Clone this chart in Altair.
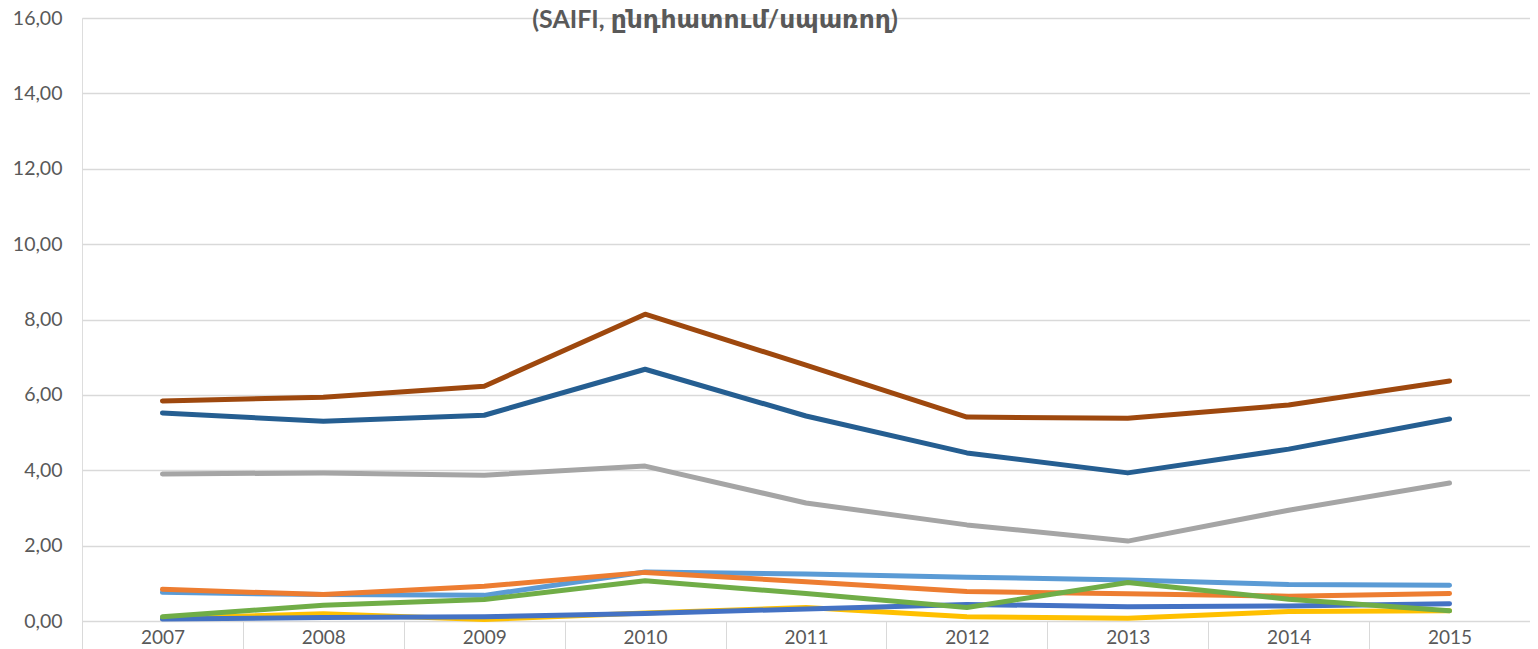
import altair as alt
import pandas as pd

years = ["2007", "2008", "2009", "2010", "2011", "2012", "2013", "2014", "2015"]

# series in drawing order (later drawn on top)
s_yellow = [0.07, 0.19, 0.04, 0.21, 0.36, 0.11, 0.07, 0.25, 0.27]
s_blue = [0.05, 0.09, 0.11, 0.20, 0.32, 0.44, 0.38, 0.40, 0.46]
s_lightblue = [0.76, 0.70, 0.68, 1.30, 1.25, 1.16, 1.09, 0.97, 0.95]
s_orange = [0.84, 0.70, 0.92, 1.29, 1.04, 0.78, 0.72, 0.66, 0.73]
s_gray = [3.90, 3.93, 3.87, 4.11, 3.13, 2.55, 2.12, 2.94, 3.66]
s_green = [0.11, 0.42, 0.57, 1.07, 0.73, 0.36, 1.02, 0.58, 0.27]
s_darkblue = [5.52, 5.30, 5.46, 6.68, 5.44, 4.46, 3.93, 4.56, 5.36]
s_brown = [5.84, 5.94, 6.23, 8.14, 6.79, 5.41, 5.38, 5.73, 6.37]

title_text = ["(SAIFI, ընդհատում/սպառող)"]

series = [
    ("s4", s_yellow, "#FFC000"),
    ("s1", s_blue, "#4472C4"),
    ("s5", s_lightblue, "#5B9BD5"),
    ("s2", s_orange, "#ED7D31"),
    ("s3", s_gray, "#A5A5A5"),
    ("s6", s_green, "#70AD47"),
    ("s7", s_darkblue, "#255E91"),
    ("s8", s_brown, "#9E480E"),
]

FONT = "Lato, DejaVu Sans, sans-serif"

x_enc = alt.X(
    "year:O",
    scale=alt.Scale(type="band", paddingInner=0, paddingOuter=0),
    axis=alt.Axis(
        title=None,
        labelAngle=0,
        labelFont=FONT,
        labelFontSize=19,
        labelColor="#595959",
        labelPadding=-23,
        labelBaseline="top",
        domainColor="#D9D9D9",
        domainWidth=1,
        tickColor="#D9D9D9",
        tickSize=30,
        tickBand="extent",
        grid=False,
    ),
)
y_enc = alt.Y(
    "value:Q",
    scale=alt.Scale(domain=[0, 16], nice=False),
    axis=alt.Axis(
        title=None,
        values=[0, 2, 4, 6, 8, 10, 12, 14, 16],
        labelExpr="replace(format(datum.value, '.2f'), '.', ',')",
        labelFont=FONT,
        labelFontSize=19.5,
        labelColor="#595959",
        labelPadding=20,
        domain=False,
        ticks=False,
        grid=True,
        gridColor="#D9D9D9",
        gridWidth=1.3,
    ),
)

layers = []
for name, vals, col in series:
    df = pd.DataFrame({"year": years, "value": vals, "series": name})
    layers.append(
        alt.Chart(df)
        .mark_line(color=col, strokeWidth=5, strokeCap="round", strokeJoin="round")
        .encode(x=x_enc, y=y_enc)
    )

title_layer = (
    alt.Chart(pd.DataFrame({"t": title_text}))
    .mark_text(
        font=FONT,
        fontSize=25,
        fontWeight="bold",
        color="#595959",
        align="center",
        baseline="alphabetic",
    )
    .encode(text="t:N", x=alt.value(633), y=alt.value(10))
)

chart = (
    alt.layer(*layers, title_layer)
    .properties(
        width=1448,
        height=603,
        autosize=alt.AutoSizeParams(type="none"),
        padding={"left": 74, "top": 10, "right": 0, "bottom": 28},
    )
    .configure_view(stroke=None)
    .configure(background="white")
)

chart.save("out.html", embed_options={"renderer": "svg", "actions": False})
